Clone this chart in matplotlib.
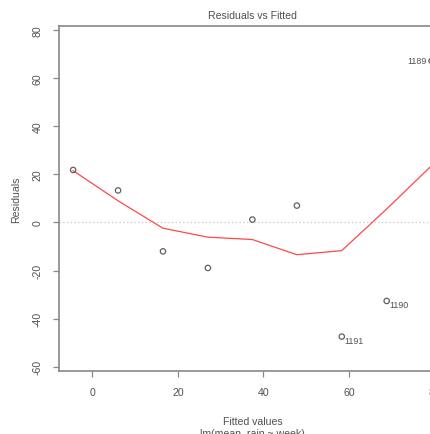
import matplotlib
matplotlib.use("Agg")
import matplotlib.pyplot as plt

# Data
fitted = [-4.5, 6.0, 16.5, 27.0, 37.4, 47.8, 58.3, 68.8, 79.3]
residuals = [21.8, 13.3, -12.0, -18.9, 1.2, 7.0, -47.4, -32.6, 67.1]
point_ids = ["", "", "", "", "", "", "1191", "1190", "1189"]
smooth_x = [-4.5, 6.0, 16.5, 27.0, 37.4, 47.8, 58.3, 68.8, 79.3]
smooth_y = [21.5, 9.0, -2.4, -6.1, -7.1, -13.4, -11.7, 5.6, 23.6]
xticks = [0, 20, 40, 60, 80]
yticks = [-60, -40, -20, 0, 20, 40, 60, 80]

plt.rcParams['font.family'] = ['Liberation Sans', 'DejaVu Sans']

W, H = 430, 435
fig = plt.figure(figsize=(W / 100, H / 100), dpi=100)
left, right, top, bottom = 58.6, 447.0, 27.0, 372.0
ax = fig.add_axes([left / W, (H - bottom) / H, (right - left) / W, (bottom - top) / H])

ax.set_xlim(-7.9, 82.9)
ax.set_ylim(-61.7, 81.6)

spine_col = '#888888'
text_col = '#505050'

ax.axhline(0, color='#c8c8c8', linestyle=(0, (1, 2)), linewidth=0.9, zorder=1)
ax.plot(smooth_x, smooth_y, color='#ff4848', linewidth=0.9, zorder=2)
ax.scatter(fitted, residuals, s=15, facecolors='none', edgecolors='#606060',
           linewidths=0.9, zorder=3, clip_on=False)

for x, y, lab in zip(fitted, residuals, point_ids):
    if not lab:
        continue
    if x > 75:
        ax.annotate(lab, (x, y), xytext=(-3.5, 0), textcoords='offset points',
                    ha='right', va='center', fontsize=6.4, color=text_col)
    else:
        ax.annotate(lab, (x, y), xytext=(2, -2.5), textcoords='offset points',
                    ha='left', va='center', fontsize=6.4, color=text_col)

for s in ['left', 'top', 'bottom', 'right']:
    ax.spines[s].set_color(spine_col)
    ax.spines[s].set_linewidth(1.2)

ax.set_xticks(xticks)
ax.set_yticks(yticks)
ax.set_yticklabels([str(v) for v in yticks], rotation=90, va='center')
ax.tick_params(axis='both', direction='out', length=4.5, width=0.9, color=spine_col,
               labelcolor=text_col, labelsize=7.6, pad=7)

ax.set_title("Residuals vs Fitted", fontsize=7.6, color=text_col, pad=6)
ax.set_ylabel("Residuals", fontsize=7.6, color=text_col, labelpad=8)
ax.set_xlabel("Fitted values\nlm(mean_rain ~ week)", fontsize=7.6, color=text_col,
              labelpad=14, linespacing=1.25)

fig.savefig("out.png", dpi=100)
